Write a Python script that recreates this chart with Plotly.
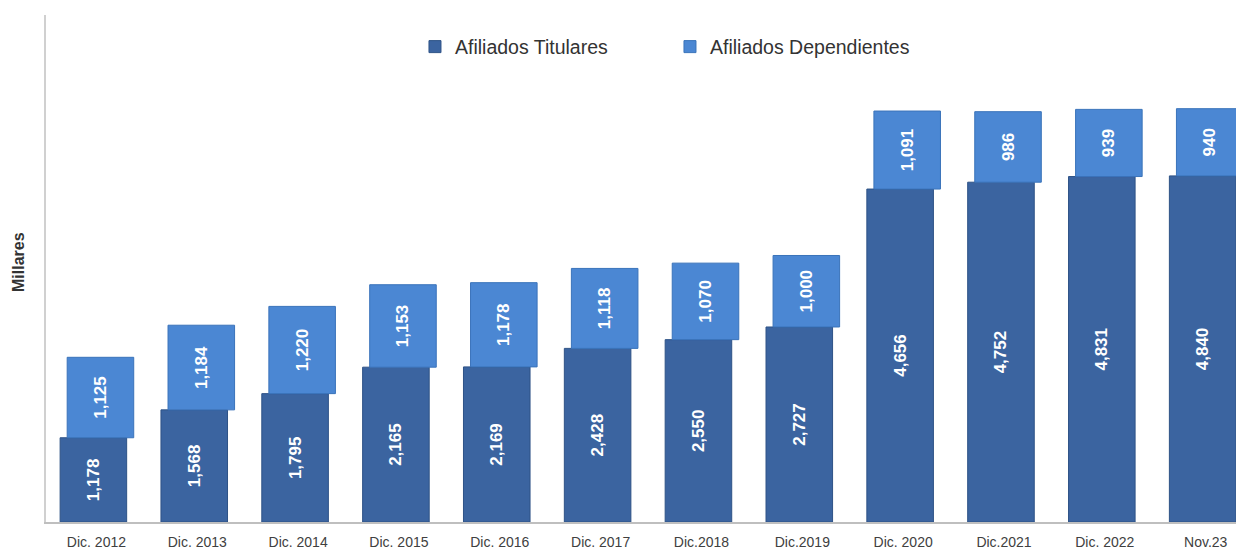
import plotly.graph_objects as go

categories = ["Dic. 2012", "Dic. 2013", "Dic. 2014", "Dic. 2015", "Dic. 2016", "Dic. 2017",
              "Dic.2018", "Dic.2019", "Dic. 2020", "Dic.2021", "Dic. 2022", "Nov.23"]
titulares = [1178, 1568, 1795, 2165, 2169, 2428, 2550, 2727, 4656, 4752, 4831, 4840]
dependientes = [1125, 1184, 1220, 1153, 1178, 1118, 1070, 1000, 1091, 986, 939, 940]

x = list(range(len(categories)))
FONT = "Liberation Sans, Arial"

# page body has an 8px default margin; figure sized/offset to compensate
W, H = 1236, 550
L, T, B = 38, 7, 36
PW, PH = W - L, H - T - B

fig = go.Figure()
fig.add_trace(go.Bar(
    x=x, y=titulares, name="Afiliados Titulares",
    marker=dict(color="#3B64A0", line=dict(color="#2E5286", width=1)),
    width=0.66, offset=-0.36,
    text=[f"{v:,}" for v in titulares], textposition="inside",
    insidetextanchor="middle", textangle=-90,
    textfont=dict(color="white", size=17, family=FONT, weight="bold"),
))
fig.add_trace(go.Bar(
    x=x, y=dependientes, base=titulares, name="Afiliados Dependientes",
    marker=dict(color="#4B87D3", line=dict(color="#3A73BA", width=1)),
    width=0.66, offset=-0.29,
    text=[f"{v:,}" for v in dependientes], textposition="inside",
    insidetextanchor="middle", textangle=-90,
    textfont=dict(color="white", size=17, family=FONT, weight="bold"),
))

fig.update_layout(
    width=W, height=H,
    barmode="overlay",
    plot_bgcolor="white", paper_bgcolor="white",
    margin=dict(l=L, r=0, t=T, b=B, autoexpand=False),
    font=dict(family=FONT, color="#404040"),
    legend=dict(orientation="h", x=0.308, xanchor="left", y=0.937, yanchor="middle",
                font=dict(size=19.5, color="#333333"), itemwidth=30,
                entrywidth=210, traceorder="normal", bgcolor="rgba(0,0,0,0)"),
    xaxis=dict(
        tickmode="array", tickvals=x, ticktext=categories,
        range=[-0.50, 11.38], showgrid=False, zeroline=False,
        showline=True, linecolor="#BFBFBF", linewidth=2,
        ticks="", tickfont=dict(size=14, color="#404040"),
        ticklabelstandoff=6, automargin=False,
    ),
    yaxis=dict(
        range=[0, 7090], showgrid=False, zeroline=False, showticklabels=False,
        showline=True, linecolor="#D0D0D0", linewidth=2, ticks="", automargin=False,
    ),
    annotations=[dict(text="<b>Millares</b>", x=(10 - L) / PW, xref="paper", xanchor="center",
                      y=(H - B - 254) / PH, yref="paper", yanchor="middle", textangle=-90,
                      showarrow=False, font=dict(size=16, color="#333333"))],
)

fig.write_html("out.html")
